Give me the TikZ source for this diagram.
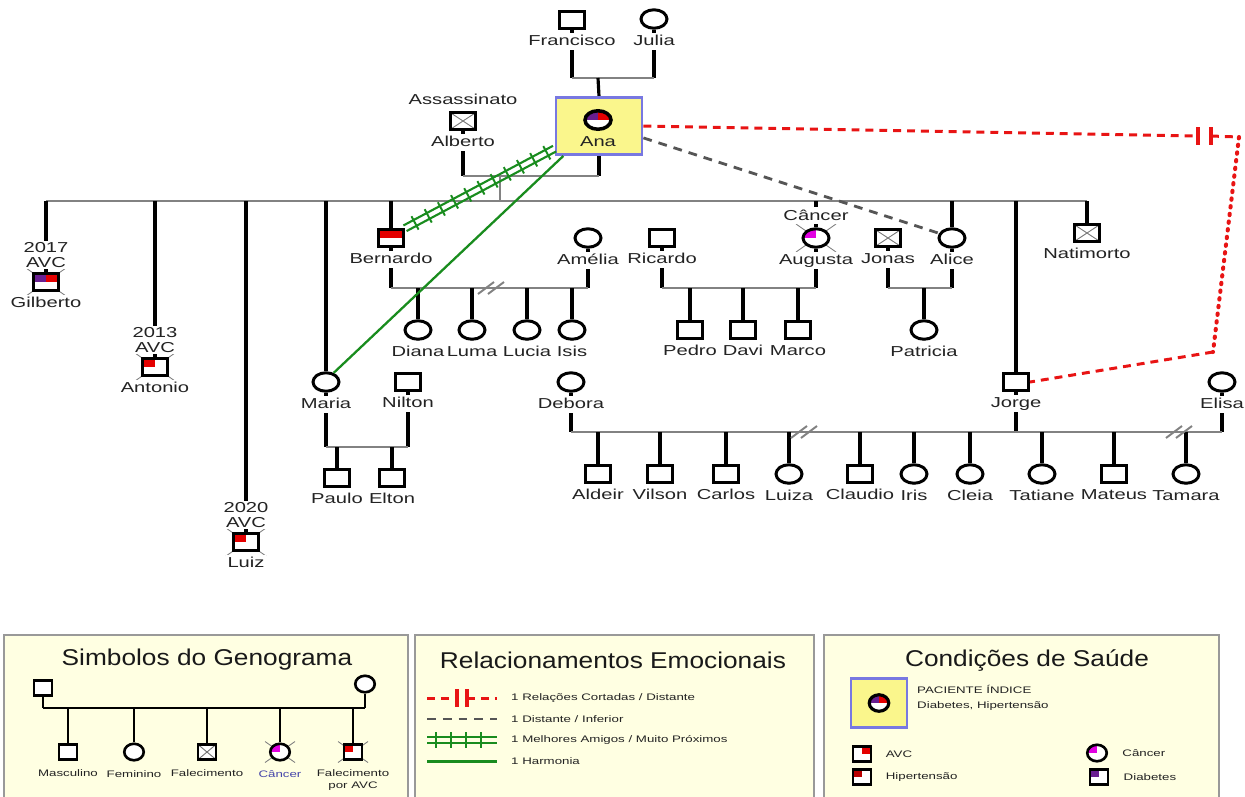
\documentclass[tikz,border=0pt]{standalone}
\usepackage{fontspec}
\setmainfont{Liberation Sans}[FakeStretch=1.4]
\newfontfamily\titlefont{Liberation Sans}[FakeStretch=1.15]
\usetikzlibrary{shapes.geometric,backgrounds,decorations.markings}

\definecolor{linegray}{RGB}{130,130,130}
\definecolor{txtgray}{RGB}{35,35,35}
\definecolor{indexyellow}{RGB}{250,246,140}
\definecolor{indexblue}{RGB}{120,120,225}
\definecolor{legendcream}{RGB}{255,255,226}
\definecolor{relred}{RGB}{232,20,20}
\definecolor{relgreen}{RGB}{25,140,30}
\definecolor{reldark}{RGB}{85,85,85}
\definecolor{diabviolet}{RGB}{105,30,145}
\definecolor{cancermag}{RGB}{225,0,225}
\definecolor{avcred}{RGB}{228,0,0}
\definecolor{hiperred}{RGB}{185,0,0}
\definecolor{cancerblue}{RGB}{70,70,170}

\tikzset{
  person/.style={draw=black, line width=1.7pt, fill=white, inner sep=0pt},
  male/.style={person, rectangle, minimum width=0.5cm, minimum height=0.33cm},
  female/.style={person, ellipse, minimum width=0.52cm, minimum height=0.37cm},
  smale/.style={person, rectangle, line width=1.5pt, minimum width=0.36cm, minimum height=0.3cm},
  sfemale/.style={person, ellipse, line width=1.5pt, minimum width=0.39cm, minimum height=0.33cm},
  xcross/.style={path picture={\draw[black!55, line width=0.5pt]
      (path picture bounding box.north west) -- (path picture bounding box.south east)
      (path picture bounding box.south west) -- (path picture bounding box.north east);}},
  quad/.style 2 args={path picture={
      \fill[#1] (path picture bounding box.center) rectangle (path picture bounding box.north west);
      \fill[#2] (path picture bounding box.center) rectangle (path picture bounding box.north east);}},
  lbl/.style={font=\fontsize{8.2}{9}\selectfont, text=txtgray, fill=white, inner sep=1pt,
      text height=6.3pt, text depth=1.3pt},
  lblyr/.style={font=\fontsize{8.2}{8.5}\selectfont, text=txtgray, fill=white, inner sep=1pt, align=center},
  lgtext/.style={font=\fontsize{5.4}{6.5}\selectfont, text=txtgray, inner sep=0.5pt},
  lgbelow/.style={lgtext, yshift=-3pt, align=center},
  lgright/.style={lgtext, xshift=#1},
  lgtitle/.style={font=\titlefont\fontsize{13}{15}\selectfont, text=black!90},
  legendbox/.style={fill=legendcream, draw=black!40, line width=1pt},
  descent/.style={black, line width=1.8pt},
  bond/.style={linegray, line width=1.2pt},
  lgline/.style={black, line width=1.4pt},
  deadx/.style={black!50, line width=0.5pt},
  divline/.style={linegray, line width=1.1pt},
  indexbox/.style={rectangle, draw=indexblue, fill=indexyellow, line width=1.6pt, inner sep=0pt},
  cortada/.style={relred, line width=1.7pt, dash pattern=on 4.5pt off 3.4pt},
  cortadadot/.style={relred, line width=2.3pt, line cap=round, dash pattern=on 0.8pt off 3.6pt},
  cutbar/.style={relred, line width=2.2pt},
  distante/.style={reldark, line width=1.6pt, dash pattern=on 5pt off 4pt},
  harmonia/.style={relgreen, line width=1.3pt},
  amigoline/.style={relgreen, line width=1.2pt},
  amigoticks/.style={decorate, decoration={markings,
      mark=between positions 5pt and -5pt step 8.5pt with {\draw[relgreen, line width=1.1pt] (0,-4.3pt) -- (0,4.3pt);}}}
}

\newcommand\deadmark[2][1]{\draw[deadx] (#2.center) +(-20*#1,-14*#1) -- +(20*#1,14*#1) +(-20*#1,14*#1) -- +(20*#1,-14*#1);}
\newcommand\divmark[1]{\draw[divline] (#1) +(-14,6) -- +(2,-6) +(-4,6) -- +(12,-6);}
\newcommand\cutmark[1]{\draw[cutbar] (#1) +(0,-9) -- +(0,9);}
\newcommand\amigolink[4]{%
  \draw[amigoline] ([shift={#3}]#1) -- ([shift={#3}]#2);
  \draw[amigoline] ([shift={#4}]#1) -- ([shift={#4}]#2);
  \path[amigoticks] (#1) -- (#2);}

\begin{document}
\begin{tikzpicture}[x=0.02cm, y=-0.02cm, label distance=1.5pt]
	\useasboundingbox (0,0) rectangle (1245,796);
	
	\begin{scope}[on background layer]
		\draw[legendbox] (4,635) rectangle (408,810);
		\draw[legendbox] (415,635) rectangle (814,810);
		\draw[legendbox] (824,635) rectangle (1219,810);
	\end{scope}
	
	% avos
	\node[male, label={[lbl]below:Francisco}] (francisco) at (572,20) {};
	\node[female, label={[lbl]below:Julia}] (julia) at (654,19) {};
	
	% Ana e Alberto
	\node[indexbox, minimum width=1.72cm, minimum height=1.14cm] (ana) at (599,126) {};
	\node[female, line width=2pt, quad={diabviolet}{avcred}, label={[lbl, fill=none]below:Ana}] (anamark) at (598,120) {};
	\node[male, xcross, label={[lbl]above:Assassinato}, label={[lbl]below:Alberto}] (alberto) at (463,121) {};
	
	% filhos
	\node[male, quad={diabviolet}{avcred}, label={[lblyr]above:2017\\AVC}, label={[lbl]below:Gilberto}] (gilberto) at (46,282) {};
	\node[male, quad={avcred}{white}, label={[lblyr]above:2013\\AVC}, label={[lbl]below:Antonio}] (antonio) at (155,367) {};
	\node[male, quad={avcred}{white}, label={[lblyr]above:2020\\AVC}, label={[lbl]below:Luiz}] (luiz) at (246,542) {};
	\node[female, label={[lbl]below:Maria}] (maria) at (326,382) {};
	\node[male, quad={avcred}{avcred}, label={[lbl]below:Bernardo}] (bernardo) at (391,238) {};
	\node[female, quad={cancermag}{white}, label={[lbl]above:Câncer}, label={[lbl]below:Augusta}] (augusta) at (816,238) {};
	\node[female, label={[lbl]below:Alice}] (alice) at (952,238) {};
	\node[male, label={[lbl]below:Jorge}] (jorge) at (1016,382) {};
	\node[male, xcross, label={[lbl]below:Natimorto}] (natimorto) at (1087,233) {};
	
	% conjuges
	\node[female, label={[lbl]below:Amélia}] (amelia) at (588,238) {};
	\node[male, label={[lbl]below:Ricardo}] (ricardo) at (662,238) {};
	\node[male, xcross, label={[lbl]below:Jonas}] (jonas) at (888,238) {};
	\node[male, label={[lbl]below:Nilton}] (nilton) at (408,382) {};
	\node[female, label={[lbl]below:Debora}] (debora) at (571,382) {};
	\node[female, label={[lbl]below:Elisa}] (elisa) at (1222,382) {};
	
	% netos
	\node[female, label={[lbl]below:Diana}] (diana) at (418,330) {};
	\node[female, label={[lbl]below:Luma}] (luma) at (472,330) {};
	\node[female, label={[lbl]below:Lucia}] (lucia) at (527,330) {};
	\node[female, label={[lbl]below:Isis}] (isis) at (572,330) {};
	\node[male, label={[lbl]below:Pedro}] (pedro) at (690,330) {};
	\node[male, label={[lbl]below:Davi}] (davi) at (743,330) {};
	\node[male, label={[lbl]below:Marco}] (marco) at (798,330) {};
	\node[female, label={[lbl]below:Patricia}] (patricia) at (924,330) {};
	\node[male, label={[lbl]below:Paulo}] (paulo) at (337,478) {};
	\node[male, label={[lbl]below:Elton}] (elton) at (392,478) {};
	\node[male, label={[lbl]below:Aldeir}] (aldeir) at (598,474) {};
	\node[male, label={[lbl]below:Vilson}] (vilson) at (660,474) {};
	\node[male, label={[lbl]below:Carlos}] (carlos) at (726,474) {};
	\node[female, label={[lbl]below:Luiza}] (luiza) at (789,474) {};
	\node[male, label={[lbl]below:Claudio}] (claudio) at (860,474) {};
	\node[female, label={[lbl]below:Iris}] (iris) at (914,474) {};
	\node[female, label={[lbl]below:Cleia}] (cleia) at (970,474) {};
	\node[female, label={[lbl]below:Tatiane}] (tatiane) at (1042,474) {};
	\node[male, label={[lbl]below:Mateus}] (mateus) at (1114,474) {};
	\node[female, label={[lbl]below:Tamara}] (tamara) at (1186,474) {};
	
	\coordinate (fjbar) at (598,78);
	\coordinate (aabar) at (500,176);
	\coordinate (sib) at (500,201);
	\coordinate (babar) at (492,288);
	\coordinate (rabar) at (739,288);
	\coordinate (jabar) at (924,288);
	\coordinate (mnbar) at (367,447);
	\coordinate (djbar) at (805,432);
	\coordinate (jebar) at (1180,432);
	
	\begin{scope}[on background layer]
		\draw[descent] (francisco.south) -- (francisco |- fjbar);
		\draw[descent] (julia.south) -- (julia |- fjbar);
		\draw[bond] (francisco |- fjbar) -- (julia |- fjbar);
		\draw[descent] (fjbar) -- (ana.north);
		
		\draw[descent] (alberto.south) -- (alberto |- aabar);
		\draw[descent] (ana.south) -- (ana |- aabar);
		\draw[bond] (alberto |- aabar) -- (ana |- aabar);
		\draw[bond] (aabar) -- (sib);
		\draw[bond] (gilberto |- sib) -- (natimorto |- sib);
		\foreach \p in {gilberto,antonio,luiz,maria,bernardo,augusta,alice,jorge,natimorto}
			\draw[descent] (\p |- sib) -- (\p.north);
		
		\draw[descent] (bernardo.south) -- (bernardo |- babar);
		\draw[descent] (amelia.south) -- (amelia |- babar);
		\draw[bond] (bernardo |- babar) -- (amelia |- babar);
		\foreach \c in {diana,luma,lucia,isis}
			\draw[descent] (\c |- babar) -- (\c.north);
		\divmark{babar}
		
		\draw[descent] (ricardo.south) -- (ricardo |- rabar);
		\draw[descent] (augusta.south) -- (augusta |- rabar);
		\draw[bond] (ricardo |- rabar) -- (augusta |- rabar);
		\foreach \c in {pedro,davi,marco}
			\draw[descent] (\c |- rabar) -- (\c.north);
		
		\draw[descent] (jonas.south) -- (jonas |- jabar);
		\draw[descent] (alice.south) -- (alice |- jabar);
		\draw[bond] (jonas |- jabar) -- (alice |- jabar);
		\draw[descent] (jabar) -- (patricia.north);
		
		\draw[descent] (maria.south) -- (maria |- mnbar);
		\draw[descent] (nilton.south) -- (nilton |- mnbar);
		\draw[bond] (maria |- mnbar) -- (nilton |- mnbar);
		\foreach \c in {paulo,elton}
			\draw[descent] (\c |- mnbar) -- (\c.north);
		
		\draw[descent] (debora.south) -- (debora |- djbar);
		\draw[descent] (jorge.south) -- (jorge |- djbar);
		\draw[descent] (elisa.south) -- (elisa |- djbar);
		\draw[bond] (debora |- djbar) -- (elisa |- djbar);
		\foreach \c in {aldeir,vilson,carlos,luiza,claudio,iris,cleia,tatiane,mateus,tamara}
			\draw[descent] (\c |- djbar) -- (\c.north);
		\divmark{djbar}
		\divmark{jebar}
		
		\foreach \p in {gilberto,antonio,luiz,augusta}
			{\deadmark{\p}}
	\end{scope}
	
	% relacionamentos
	\coordinate (cutl) at (1198,136);
	\coordinate (cutr) at (1211,136);
	\coordinate (cutcorner) at (1239,137);
	\coordinate (cutlow) at (1213,352);
	\draw[cortada] (ana.east) -- (cutl);
	\draw[cortada] (cutr) -- (cutcorner);
	\cutmark{cutl}
	\cutmark{cutr}
	\draw[cortadadot] (cutcorner) -- (cutlow);
	\draw[cortada] (cutlow) -- (jorge.east);
	\draw[distante] (ana.-15) -- (alice.160);
	\draw[harmonia] (ana.220) -- (maria.50);
	\amigolink{ana.207}{bernardo.north east}{(1.6,2.8)}{(-1.6,-2.8)}
	
	% legenda: simbolos
	\node[lgtitle] (symtitle) at (207,660) {Simbolos do Genograma};
	\node[smale] (lgpai) at (43,688) {};
	\node[sfemale] (lgmae) at (365,684) {};
	\node[smale, label={[lgbelow]below:Masculino}] (lgmasc) at (68,752) {};
	\node[sfemale, label={[lgbelow]below:Feminino}] (lgfem) at (134,752) {};
	\node[smale, xcross, label={[lgbelow]below:Falecimento}] (lgfal) at (207,752) {};
	\node[sfemale, quad={cancermag}{white}, label={[lgbelow, text=cancerblue]below:Câncer}] (lgcancer) at (280,752) {};
	\node[smale, quad={avcred}{white}, label={[lgbelow]below:Falecimento\\por AVC}] (lgavcdead) at (353,752) {};
	\coordinate (lgbar) at (204,708);
	
	\begin{scope}[on background layer]
		\draw[lgline] (lgpai.south) -- (lgpai |- lgbar);
		\draw[lgline] (lgmae.south) -- (lgmae |- lgbar);
		\draw[lgline] (lgpai |- lgbar) -- (lgmae |- lgbar);
		\foreach \c in {lgmasc,lgfem,lgfal,lgcancer,lgavcdead}
			\draw[lgline] (\c |- lgbar) -- (\c.north);
		\deadmark[0.75]{lgcancer}
		\deadmark[0.75]{lgavcdead}
	\end{scope}
	
	% legenda: relacionamentos
	\node[lgtitle] (reltitle) at (613,660) {Relacionamentos Emocionais};
	\coordinate (r1a) at (427,698); \coordinate (r1l) at (457,698);
	\coordinate (r1r) at (467,698); \coordinate (r1b) at (497,698);
	\coordinate (r2a) at (427,719); \coordinate (r2b) at (497,719);
	\coordinate (r3a) at (427,740); \coordinate (r3b) at (497,740);
	\coordinate (r4a) at (427,761); \coordinate (r4b) at (497,761);
	\draw[cortada] (r1a) -- (r1l);
	\draw[cortada] (r1r) -- (r1b);
	\cutmark{r1l}
	\cutmark{r1r}
	\draw[distante] (r2a) -- (r2b);
	\amigolink{r3a}{r3b}{(0,-2.8)}{(0,2.8)}
	\draw[harmonia, line width=1.7pt] (r4a) -- (r4b);
	\node[lgtext, anchor=west] (reltxt1) at (510,698) {1 Relações Cortadas / Distante};
	\node[lgtext, anchor=west] (reltxt2) at (510,719) {1 Distante / Inferior};
	\node[lgtext, anchor=west] (reltxt3) at (510,740) {1 Melhores Amigos / Muito Próximos};
	\node[lgtext, anchor=west] (reltxt4) at (510,761) {1 Harmonia};
	
	% legenda: saude
	\node[lgtitle] (saudetitle) at (1027,660) {Condições de Saúde};
	\node[indexbox, minimum width=1.12cm, minimum height=0.98cm] (lgindex) at (879,703) {};
	\node[sfemale, line width=1.8pt, quad={diabviolet}{avcred}] (lgindexmark) at (879,703) {};
	\node[lgtext, anchor=west, align=left, font=\fontsize{5.4}{8.5}\selectfont] (lgindextxt) at (916,698) {PACIENTE ÍNDICE\\Diabetes, Hipertensão};
	\node[smale, quad={white}{avcred}, label={[lgright=5.5pt]right:AVC}] (lgavc) at (862,754) {};
	\node[smale, quad={hiperred}{white}, label={[lgright=5.5pt]right:Hipertensão}] (lghiper) at (862,777) {};
	\node[sfemale, quad={cancermag}{white}, label={[lgright=6pt]right:Câncer}] (lgcancer2) at (1097,753) {};
	\node[smale, quad={diabviolet}{white}, label={[lgright=6pt]right:Diabetes}] (lgdiab) at (1099,777) {};
	
\end{tikzpicture}
\end{document}
